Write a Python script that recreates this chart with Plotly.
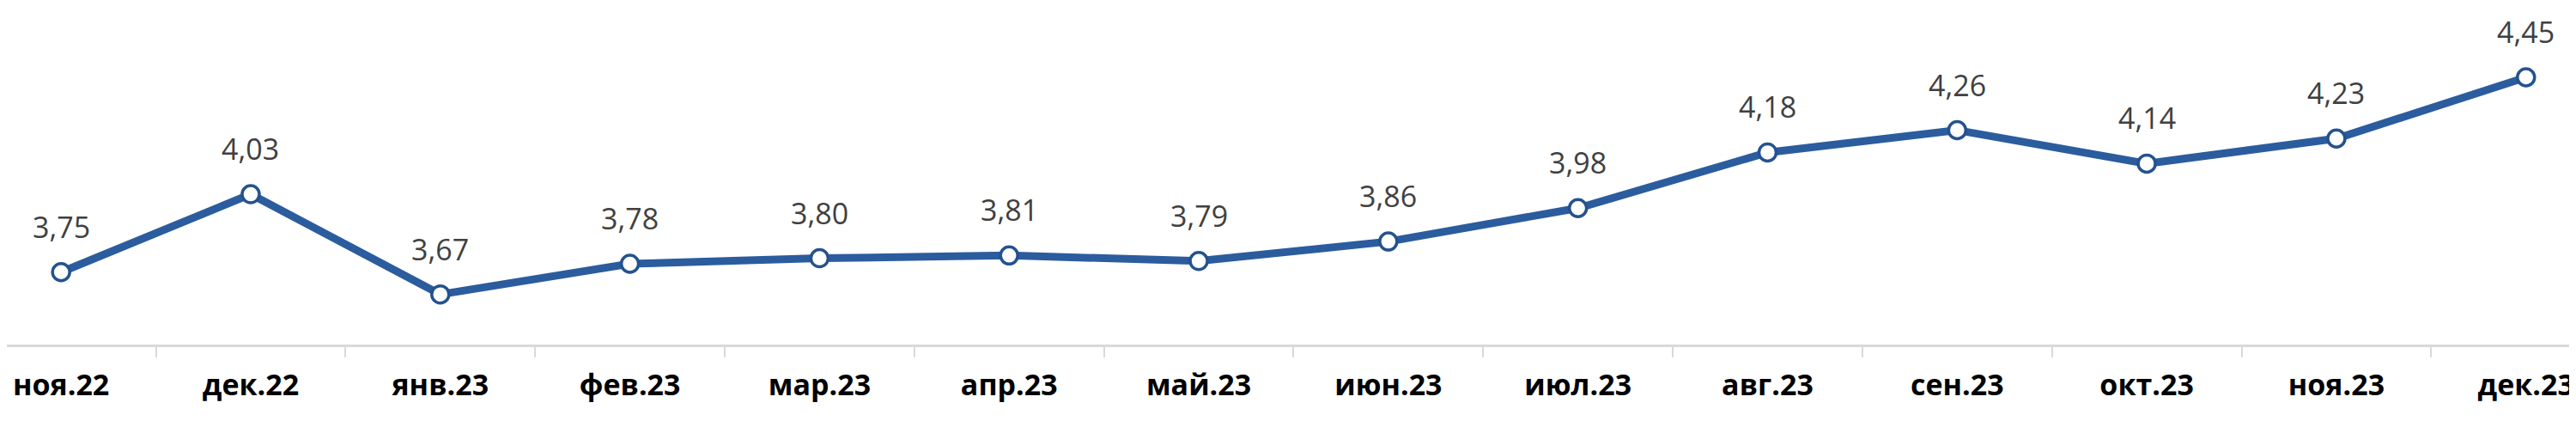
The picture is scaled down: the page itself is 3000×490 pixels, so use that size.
import plotly.graph_objects as go

months = ["ноя.22", "дек.22", "янв.23", "фев.23", "мар.23", "апр.23", "май.23",
          "июн.23", "июл.23", "авг.23", "сен.23", "окт.23", "ноя.23", "дек.23"]
values = [3.75, 4.03, 3.67, 3.78, 3.80, 3.81, 3.79, 3.86, 3.98, 4.18, 4.26, 4.14, 4.23, 4.45]
labels = [f"{v:.2f}".replace(".", ",") for v in values]

LINE = "#2B5C9E"
FONT = "Open Sans, Liberation Sans, sans-serif"

fig = go.Figure()
fig.add_trace(go.Scatter(
    x=months, y=values, mode="lines+markers",
    line=dict(color=LINE, width=9),
    marker=dict(size=20, color="white", line=dict(color="#24528F", width=3.5)),
    hoverinfo="skip", showlegend=False,
))

for m, v, t in zip(months, values, labels):
    fig.add_annotation(x=m, y=v, text=t, showarrow=False, yshift=53,
                       font=dict(family=FONT, size=34, color="#404040"))

fig.update_layout(
    template="none",
    width=3000, height=490,
    margin=dict(l=0, r=0, t=0, b=97, pad=0),
    paper_bgcolor="white", plot_bgcolor="white",
    xaxis=dict(
        type="category", range=[-0.286, 13.3],
        automargin=False,
        showline=True, linecolor="#D9D9D9", linewidth=3,
        showgrid=False, zeroline=False,
        ticks="outside", tickson="boundaries", ticklen=12, tickwidth=2, tickcolor="#D9D9D9",
        tickfont=dict(family=FONT, size=34, color="#000000", weight="bold"),
        ticklabelstandoff=15,
    ),
    yaxis=dict(range=[3.49, 4.703], visible=False, showgrid=False, zeroline=False,
               automargin=False),
)

fig.write_html("out.html")
